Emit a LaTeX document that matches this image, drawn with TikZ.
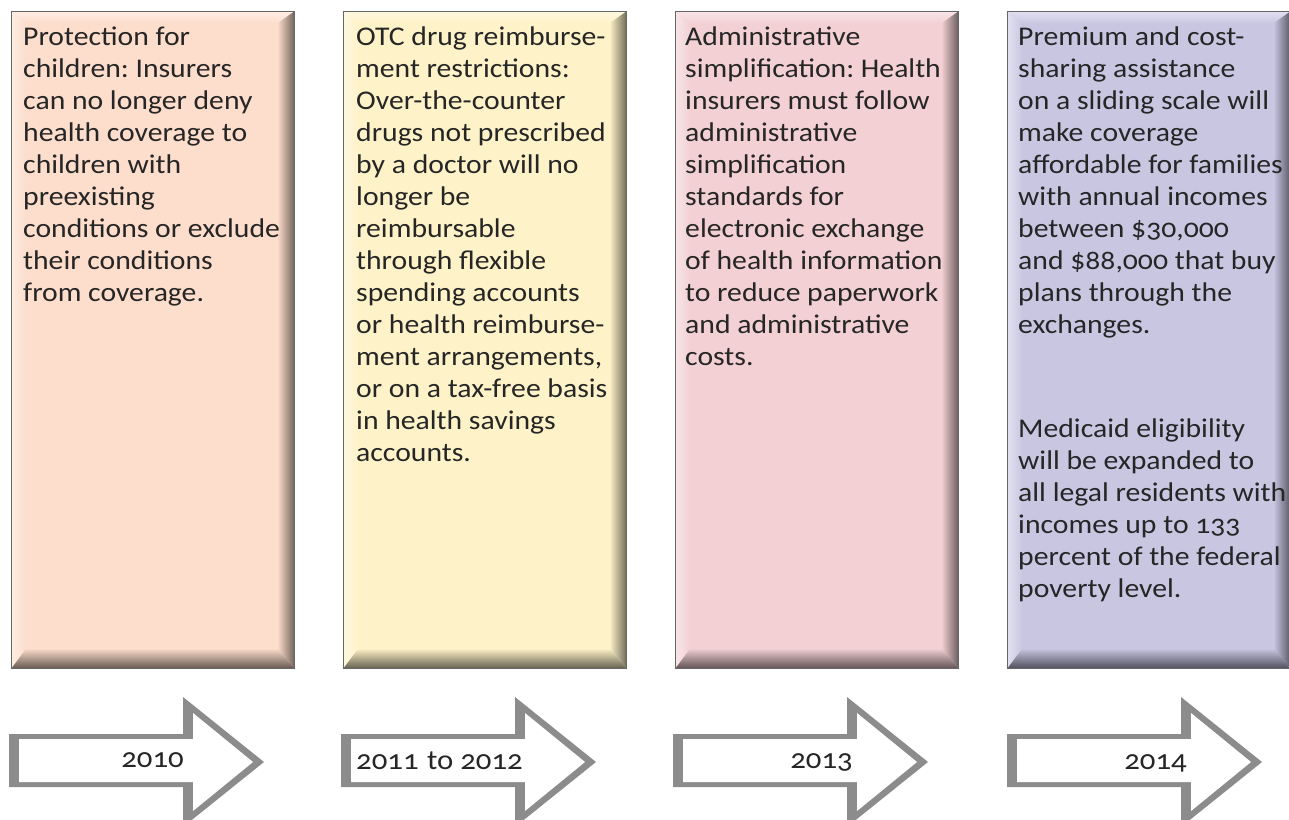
\documentclass[tikz,border=0pt]{standalone}
\usepackage{fontspec}
\setmainfont{Carlito}[Numbers=OldStyle, FakeStretch=1.1]
\usetikzlibrary{calc,positioning}
\frenchspacing

\definecolor{peach}{RGB}{253,221,203}
\definecolor{cream}{RGB}{254,242,200}
\definecolor{blush}{RGB}{242,208,212}
\definecolor{lavender}{RGB}{201,198,226}
\definecolor{arrowgray}{RGB}{140,140,140}
\definecolor{inkgray}{RGB}{38,38,38}

\tikzset{
  notebox/.style={draw=gray!80!black, line width=0.8pt, fill=#1, anchor=north west,
    minimum width=283pt, minimum height=657pt, inner sep=0pt,
    path picture={
      \coordinate (nw) at (path picture bounding box.north west);
      \coordinate (ne) at (path picture bounding box.north east);
      \coordinate (sw) at (path picture bounding box.south west);
      \coordinate (se) at (path picture bounding box.south east);
      \shade[top color=#1!55!white, bottom color=#1] (nw) -- (ne) -- ($(ne)+(-17pt,-12pt)$) -- ($(nw)+(15pt,-12pt)$) -- cycle;
      \shade[left color=#1!55!white, right color=#1] (nw) -- ($(nw)+(15pt,-12pt)$) -- ($(sw)+(15pt,20pt)$) -- (sw) -- cycle;
      \shade[left color=#1, middle color=#1!85!black, right color=#1!45!black] (ne) -- (se) -- ($(se)+(-17pt,20pt)$) -- ($(ne)+(-17pt,-12pt)$) -- cycle;
      \shade[top color=#1, middle color=#1!80!black, bottom color=#1!40!black] (sw) -- (se) -- ($(se)+(-17pt,20pt)$) -- ($(sw)+(15pt,20pt)$) -- cycle;
    }},
  notetext/.style={anchor=north west, inner sep=0pt, align=left, text=inkgray,
    font=\fontsize{27}{32}\selectfont},
  yeartext/.style={inner sep=0pt, text=inkgray, font=\fontsize{28}{30}\selectfont},
  arrowrim/.style={fill=arrowgray},
  arrowface/.style={fill=white}
}

\begin{document}
\begin{tikzpicture}[x=1pt,y=-1pt]
\useasboundingbox (0,0) rectangle (1289,819);

% the four periods
\node[notebox=peach] (box1) at (11,11) {};
\node[notebox=cream] (box2) at (343,11) {};
\node[notebox=blush] (box3) at (675,11) {};
\node[notebox=lavender] (box4) at (1007,11) {};

\node[notetext] (note1) at ($(box1.north west)+(12,16)$) {Protection for\\children: Insurers\\can no longer deny\\health coverage to\\children with\\preexisting\\conditions or exclude\\their conditions\\from coverage.};
\node[notetext] (note2) at ($(box2.north west)+(13,16)$) {OTC drug reimburse-\\ment restrictions:\\Over-the-counter\\drugs not prescribed\\by a doctor will no\\longer be\\reimbursable\\through flexible\\spending accounts\\or health reimburse-\\ment arrangements,\\or on a tax-free basis\\in health savings\\accounts.};
\node[notetext] (note3) at ($(box3.north west)+(10,16)$) {Administrative\\simplification: Health\\insurers must follow\\administrative\\simplification\\standards for\\electronic exchange\\of health information\\to reduce paperwork\\and administrative\\costs.};
\node[notetext] (note4) at ($(box4.north west)+(11,16)$) {Premium and cost-\\sharing assistance\\on a sliding scale will\\make coverage\\affordable for families\\with annual incomes\\between \$30,000\\and \$88,000 that buy\\plans through the\\exchanges.\\[72pt]Medicaid eligibility\\will be expanded to\\all legal residents with\\incomes up to 133\\percent of the federal\\poverty level.};

% year arrows
\fill[arrowrim] (9,734) -- (183,734) -- (183,697) -- (264,762) -- (183,827) -- (183,787) -- (9,787) -- cycle;
\fill[arrowface] (19,739) -- (193,739) -- (193,713) -- (253,762) -- (193,811) -- (193,782) -- (19,782) -- cycle;
\begin{scope}[xshift=332pt]
\fill[arrowrim] (9,734) -- (183,734) -- (183,697) -- (264,762) -- (183,827) -- (183,787) -- (9,787) -- cycle;
\fill[arrowface] (19,739) -- (193,739) -- (193,713) -- (253,762) -- (193,811) -- (193,782) -- (19,782) -- cycle;
\end{scope}
\begin{scope}[xshift=664pt]
\fill[arrowrim] (9,734) -- (183,734) -- (183,697) -- (264,762) -- (183,827) -- (183,787) -- (9,787) -- cycle;
\fill[arrowface] (19,739) -- (193,739) -- (193,713) -- (253,762) -- (193,811) -- (193,782) -- (19,782) -- cycle;
\end{scope}
\begin{scope}[xshift=998pt]
\fill[arrowrim] (9,734) -- (183,734) -- (183,697) -- (264,762) -- (183,827) -- (183,787) -- (9,787) -- cycle;
\fill[arrowface] (19,739) -- (193,739) -- (193,713) -- (253,762) -- (193,811) -- (193,782) -- (19,782) -- cycle;
\end{scope}

\node[yeartext, anchor=base east] (yr1) at (184,767) {2010};
\node[yeartext, anchor=base west] (yr2) at (356,769) {2011\hspace{0.3em}to 2012};
\node[yeartext, anchor=base east] (yr3) at (853,768) {2013};
\node[yeartext, anchor=base east] (yr4) at (1187,769) {2014};

\end{tikzpicture}
\end{document}
